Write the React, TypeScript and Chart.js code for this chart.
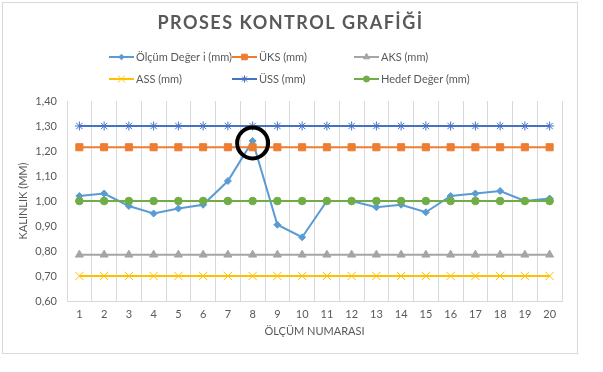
import React, { useEffect, useRef } from 'react';
import { Chart, registerables } from 'chart.js';
import { drawPoint } from 'chart.js/helpers';

Chart.register(...registerables);

const chartTitle = 'PROSES KONTROL GRAFİĞİ';
const xTitle = 'ÖLÇÜM NUMARASI';
const yTitle = 'KALINLIK (MM)';

const categories = ['1', '2', '3', '4', '5', '6', '7', '8', '9', '10', '11', '12', '13', '14', '15', '16', '17', '18', '19', '20'];

const olcumDegeri = [1.02, 1.03, 0.98, 0.95, 0.97, 0.985, 1.08, 1.24, 0.905, 0.855, 1.0, 1.0, 0.975, 0.985, 0.955, 1.02, 1.03, 1.04, 1.0, 1.01];
const uks = [1.215, 1.215, 1.215, 1.215, 1.215, 1.215, 1.215, 1.215, 1.215, 1.215, 1.215, 1.215, 1.215, 1.215, 1.215, 1.215, 1.215, 1.215, 1.215, 1.215];
const aks = [0.785, 0.785, 0.785, 0.785, 0.785, 0.785, 0.785, 0.785, 0.785, 0.785, 0.785, 0.785, 0.785, 0.785, 0.785, 0.785, 0.785, 0.785, 0.785, 0.785];
const ass = [0.7, 0.7, 0.7, 0.7, 0.7, 0.7, 0.7, 0.7, 0.7, 0.7, 0.7, 0.7, 0.7, 0.7, 0.7, 0.7, 0.7, 0.7, 0.7, 0.7];
const uss = [1.3, 1.3, 1.3, 1.3, 1.3, 1.3, 1.3, 1.3, 1.3, 1.3, 1.3, 1.3, 1.3, 1.3, 1.3, 1.3, 1.3, 1.3, 1.3, 1.3];
const hedef = [1.0, 1.0, 1.0, 1.0, 1.0, 1.0, 1.0, 1.0, 1.0, 1.0, 1.0, 1.0, 1.0, 1.0, 1.0, 1.0, 1.0, 1.0, 1.0, 1.0];

const seriesNames = ['Ölçüm Değer i (mm)', 'ÜKS (mm)', 'AKS (mm)', 'ASS (mm)', 'ÜSS (mm)', 'Hedef Değer (mm)'];
const seriesColors = ['#5B9BD5', '#ED7D31', '#A5A5A5', '#FFC000', '#4472C4', '#70AD47'];
const seriesMarkers = ['rectRot', 'rect', 'triangle', 'crossRot', 'star', 'circle'];
const markerRadius = [3.5, 5, 4.6, 6, 4.5, 3.8];
const markerBorder = [1, 1, 1, 1, 1, 1];
const highlightIndex = 7;

const FONT = 'Lato, "Open Sans", sans-serif';
const TEXT = '#595959';
const GRID = '#d9d9d9';

const decorPlugin = {
  id: 'decor',
  beforeDraw(chart: any) {
    const ctx = chart.ctx;
    ctx.save();
    ctx.fillStyle = '#ffffff';
    ctx.fillRect(0, 0, chart.width, chart.height);
    ctx.strokeStyle = GRID;
    ctx.lineWidth = 1;
    ctx.strokeRect(2.5, 2.5, 575, 351);
    // title
    ctx.fillStyle = TEXT;
    ctx.font = `bold 18px ${FONT}`;
    (ctx as any).letterSpacing = '1.5px';
    ctx.textAlign = 'center';
    ctx.textBaseline = 'middle';
    ctx.fillText(chartTitle, 290.5, 23);
    (ctx as any).letterSpacing = '0px';
    // legend
    const colX = [109, 232, 354];
    const rowY = [57, 79];
    chart.data.datasets.forEach((ds: any, i: number) => {
      const x = colX[i % 3];
      const y = rowY[Math.floor(i / 3)];
      ctx.strokeStyle = ds.borderColor;
      ctx.lineWidth = 2;
      ctx.beginPath();
      ctx.moveTo(x, y);
      ctx.lineTo(x + 25, y);
      ctx.stroke();
      ctx.fillStyle = ds.pointBackgroundColor;
      ctx.strokeStyle = ds.pointBorderColor;
      ctx.lineWidth = ds.pointBorderWidth;
      drawPoint(ctx, { pointStyle: ds.pointStyle, radius: ds.pointRadius * 0.8, borderWidth: ds.pointBorderWidth, rotation: 0 } as any, x + 12.5, y);
      ctx.fillStyle = TEXT;
      ctx.font = `11px ${FONT}`;
      ctx.textAlign = 'left';
      ctx.textBaseline = 'middle';
      ctx.fillText(ds.label, x + 27, y);
    });
    ctx.restore();
  },
  afterDatasetsDraw(chart: any) {
    const meta = chart.getDatasetMeta(0);
    const pt = meta.data[highlightIndex];
    if (!pt) return;
    const ctx = chart.ctx;
    ctx.save();
    ctx.strokeStyle = '#000000';
    ctx.lineWidth = 4;
    ctx.beginPath();
    ctx.arc(pt.x, pt.y + 2, 15.5, 0, Math.PI * 2);
    ctx.stroke();
    ctx.restore();
  },
};

export default function App() {
  const canvasRef = useRef<HTMLCanvasElement | null>(null);

  useEffect(() => {
    if (!canvasRef.current) return;
    const values = [olcumDegeri, uks, aks, ass, uss, hedef];
    const datasets = values.map((data, i) => ({
      label: seriesNames[i],
      data,
      borderColor: seriesColors[i],
      backgroundColor: seriesColors[i],
      borderWidth: 2,
      pointStyle: seriesMarkers[i],
      pointRadius: markerRadius[i],
      pointBackgroundColor: seriesColors[i],
      pointBorderColor: seriesColors[i],
      pointBorderWidth: markerBorder[i],
      tension: 0,
      fill: false,
      order: 6 - i,
    }));
    const chart = new Chart(canvasRef.current, {
      type: 'line',
      data: { labels: categories, datasets },
      plugins: [decorPlugin],
      options: {
        animation: false,
        responsive: false,
        devicePixelRatio: 1,
        layout: { padding: { top: 101, right: 41, bottom: 21, left: 0 } },
        plugins: {
          legend: { display: false },
          title: { display: false },
          tooltip: { enabled: false },
        },
        scales: {
          x: {
            type: 'category',
            offset: true,
            grid: { display: true, offset: true, color: GRID, lineWidth: 1, drawTicks: false },
            border: { display: true, color: GRID, width: 1 },
            ticks: {
              color: TEXT,
              font: { family: FONT, size: 11 },
              padding: 7,
              autoSkip: false,
              maxRotation: 0,
              minRotation: 0,
            },
            title: {
              display: true,
              text: xTitle,
              color: TEXT,
              font: { family: FONT, size: 11 },
              padding: { top: 0, bottom: 13 },
            },
            afterFit: (scale: any) => {
              scale.height = 50;
            },
          },
          y: {
            min: 0.6,
            max: 1.4,
            grid: { display: false, drawTicks: false },
            border: { display: true, color: GRID, width: 1 },
            ticks: {
              stepSize: 0.1,
              color: TEXT,
              font: { family: FONT, size: 11 },
              padding: 10,
              callback: (v: any) => Number(v).toFixed(2).replace('.', ','),
            },
            title: {
              display: true,
              text: yTitle,
              color: TEXT,
              font: { family: FONT, size: 11 },
              padding: { top: 17, bottom: 0 },
            },
            afterFit: (scale: any) => {
              scale.width = 67;
            },
          },
        },
      } as any,
    });
    return () => chart.destroy();
  }, []);

  return (
    <div style={{ position: 'absolute', left: 0, top: 0, width: 603, height: 372, background: '#fff' }}>
      <canvas ref={canvasRef} width={603} height={372} style={{ display: 'block', width: 603, height: 372 }} />
    </div>
  );
}
